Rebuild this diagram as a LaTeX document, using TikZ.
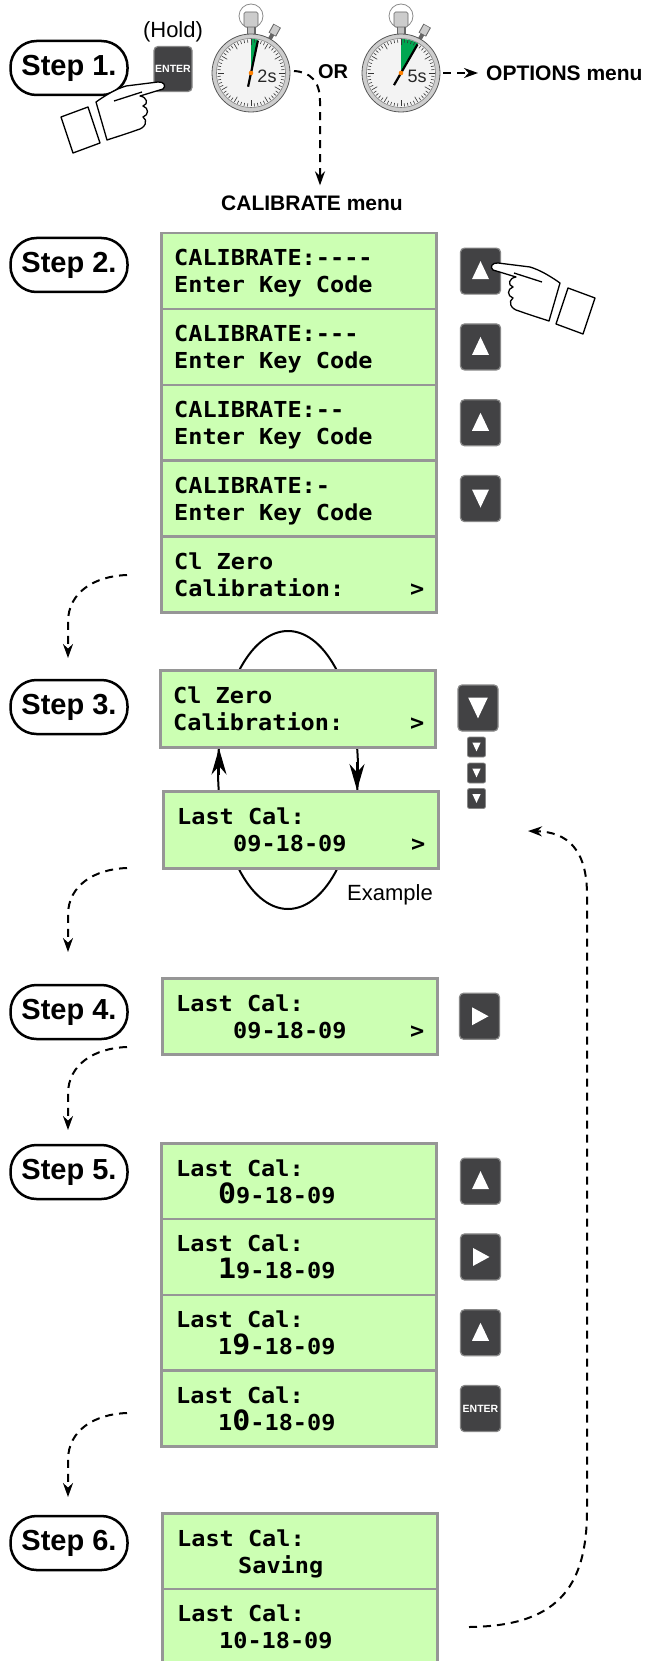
\documentclass[tikz,border=0pt]{standalone}
\usepackage{fontspec}
\setmainfont{Liberation Sans}
\newfontfamily\lcdfont[FakeStretch=1.07]{DejaVu Sans Mono}
\usetikzlibrary{arrows.meta,calc}
\definecolor{lcdgreen}{RGB}{204,255,179}
\definecolor{lcdedge}{RGB}{150,150,150}
\definecolor{keygray}{RGB}{66,66,68}
\definecolor{keyedge}{RGB}{135,135,135}
\definecolor{swgreen}{RGB}{0,166,81}
\definecolor{facegray}{RGB}{243,243,243}
\definecolor{ringgray}{RGB}{205,205,205}
\newcommand\bigd[1]{{\fontsize{28}{28}\selectfont #1}}
\tikzset{
  lcdbox/.style={fill=lcdgreen, draw=lcdedge, line width=2.5pt, minimum width=275pt, minimum height=75.8pt, anchor=north west, inner sep=0pt},
  lcdtxt/.style={anchor=base west, inner sep=0pt, font=\lcdfont\bfseries\fontsize{22}{24}\selectfont},
  keybox/.style={fill=keygray, draw=keyedge, line width=1.2pt, rounded corners=4pt, minimum width=40pt, minimum height=46pt, inner sep=0pt},
  smallkey/.style={fill=keygray, draw=keyedge, line width=0.8pt, rounded corners=2pt, minimum width=18pt, minimum height=20pt, inner sep=0pt},
  steppill/.style={draw=black, line width=2.5pt, rounded corners=26pt, minimum width=117pt, minimum height=54pt, inner sep=0pt, font=\fontsize{29}{30}\selectfont\bfseries},
  flow/.style={line width=2pt, dash pattern=on 8pt off 6pt, -{Stealth[length=14pt,width=10pt]}},
  looparrow/.style={line width=2pt, -{Stealth[length=26pt,width=15pt]}},
  keytxt/.style={text=white, font=\fontsize{10.5}{11}\selectfont\bfseries, inner sep=0pt},
  pics/uptri/.style={code={\fill[white] (0,-10) -- (8.5,8) -- (-8.5,8) -- cycle;}},
  pics/downtri/.style={code={\fill[white] (-8.5,-9) -- (8.5,-9) -- (0,9) -- cycle;}},
  pics/righttri/.style={code={\fill[white] (-7.5,-9) -- (9,0) -- (-7.5,9) -- cycle;}},
  pics/hand/.style={code={
    \draw[fill=white, line width=1.3pt, line join=round] (-103,30) -- (-76,20) -- (-64,56) -- (-91,66) -- cycle;
    \draw[fill=white, line width=1.3pt, line join=round]
      (-68,15) .. controls (-58,8) and (-48,2) .. (-38,-1)
      -- (-6,-5) .. controls (0,-5.5) and (2.5,-1) .. (-1,2)
      -- (-24,9) .. controls (-17,10) and (-15,17) .. (-21,19)
      .. controls (-15,21) and (-15,28) .. (-21,30)
      .. controls (-16,33) and (-18,41) .. (-27,43)
      .. controls (-38,47) and (-48,50) .. (-57,53) -- cycle;
    \draw[line width=1.3pt] (-50,14) -- (-22,5);
  }},
  pics/stopwatch/.style 2 args={code={
    \draw[black!45, line width=0.8pt] (0,-57) circle (12);
    \draw[black!60, line width=4pt] (-61:37) -- (-61:45);
    \draw[black!60, line width=8.5pt] (-61:44) -- (-61:54);
    \draw[black!20, line width=6.5pt] (-61:44.7) -- (-61:53.3);
    \fill[black!60] (-4.5,-47) rectangle (4.5,-36);
    \fill[black!25] (-3.3,-46.5) rectangle (3.3,-36);
    \draw[fill=black!20, draw=black!60, line width=0.6pt, rounded corners=1.5pt] (-7,-61) rectangle (7,-46);
    \draw[fill=ringgray, draw=black!65, line width=0.8pt] (0,0) circle (39);
    \draw[fill=facegray, draw=black!50, line width=0.6pt] (0,0) circle (34.5);
    \fill[swgreen] (0,0) -- plot[domain=-90:#1, samples=12] (\x:34) -- cycle;
    \foreach \i in {0,...,59}{
      \pgfmathsetmacro\rin{mod(\i,5)==0 ? 27.5 : 30.5}
      \draw[black!80, line width=0.6pt] (\i*6:\rin) -- (\i*6:33.5);
    }
    \draw[line width=2.2pt] (#1+180:14) -- (#1:33);
    \fill[orange] (0,0) circle (2.3);
    \node[font=\fontsize{18}{18}\selectfont, text=black!85, inner sep=0pt] at (16,3) {#2};
  }}
}
\begin{document}
\begin{tikzpicture}[x=1pt,y=-1pt]
\useasboundingbox (0,0) rectangle (657,1661);
\clip (0,0) rectangle (657,1661);
\fill[white] (0,0) rectangle (657,1661);

% ---------------- Step 1
\node[steppill] (p1) at (69,68) {Step 1.};
\node[font=\fontsize{22}{24}\selectfont, inner sep=0pt] (hold) at (173,32) {(Hold)};
\node[keybox, minimum width=38pt, minimum height=45pt] (k1) at (173,69) {};
\node[keytxt] (k1t) at (k1) {ENTER};
\pic at (164,87) {hand};
\coordinate (sw1) at (251,73);
\coordinate (sw2) at (401,73);
\pic at (sw1) {stopwatch={-78}{2s}};
\pic at (sw2) {stopwatch={-60}{5s}};
\node[font=\fontsize{20}{21}\selectfont\bfseries, inner sep=0pt] (or) at (333,72) {OR};
\node[font=\fontsize{21}{22}\selectfont\bfseries, anchor=west, inner sep=0pt] (opt) at (486,73) {OPTIONS menu};
\node[font=\fontsize{21}{22}\selectfont\bfseries, inner sep=0pt] (cal) at (312,203) {CALIBRATE menu};
\draw[flow] ($(sw1)+(43,-2)$) .. controls ($(sw1)+(59,-1)$) and ($(sw1)+(69,8)$) .. ($(sw1)+(69,28)$) -- ($(cal.north)+(8,-10)$);
\draw[flow] ($(sw2)+(42,0)$) -- ($(opt.west)+(-8,0)$);

% ---------------- Step 2
\node[steppill] (p2) at (69,265) {Step 2.};
\node[lcdbox] (s2a) at (160,232) {};
\node[lcdbox] (s2b) at (160,307.8) {};
\node[lcdbox] (s2c) at (160,383.6) {};
\node[lcdbox] (s2d) at (160,459.4) {};
\node[lcdbox] (s2e) at (160,535.2) {};
\foreach \b/\t in {s2a/CALIBRATE:-\kern0pt-\kern0pt-\kern0pt-, s2b/CALIBRATE:-\kern0pt-\kern0pt-, s2c/CALIBRATE:-\kern0pt-, s2d/CALIBRATE:-}{
  \node[lcdtxt] (\b1) at ($(\b.north west)+(14,34)$) {\t};
  \node[lcdtxt] (\b2) at ($(\b.north west)+(14,61)$) {Enter Key Code};
}
\node[lcdtxt] (s2e1) at ($(s2e.north west)+(14,34)$) {Cl Zero};
\node[lcdtxt] (s2e2) at ($(s2e.north west)+(14,61)$) {Calibration:};
\node[lcdtxt] (s2e3) at ($(s2e.north west)+(250,61)$) {>};
\node[keybox] (k2a) at ($(s2a.east)+(43,0)$) {};
\node[keybox] (k2b) at ($(s2b.east)+(43,0)$) {};
\node[keybox] (k2c) at ($(s2c.east)+(43,0)$) {};
\node[keybox] (k2d) at ($(s2d.east)+(43,0)$) {};
\pic at (k2a) {uptri};
\pic at (k2b) {uptri};
\pic at (k2c) {uptri};
\pic at (k2d) {downtri};
\pic[xscale=-1] at (492,268) {hand};

\coordinate (a2s) at (127,575);
\coordinate (a2e) at (68,658);
\draw[flow] (a2s) .. controls (95,576) and (68,592) .. (68,622) -- (a2e);

% ---------------- Step 3
\node[steppill] (p3) at (69,707) {Step 3.};
\draw[line width=2pt] (288,770) ellipse [x radius=70, y radius=139];
\node[lcdbox, minimum height=77pt] (s3a) at (159,669) {};
\node[lcdbox, minimum height=77pt] (s3b) at (162,790) {};
\node[lcdtxt] (s3a1) at ($(s3a.north west)+(14,34)$) {Cl Zero};
\node[lcdtxt] (s3a2) at ($(s3a.north west)+(14,61)$) {Calibration:};
\node[lcdtxt] (s3a3) at ($(s3a.north west)+(251,61)$) {>};
\node[lcdtxt] (s3b1) at ($(s3b.north west)+(15,34)$) {Last Cal:};
\node[lcdtxt] (s3b2) at ($(s3b.north west)+(71,61)$) {09-18-09};
\node[lcdtxt] (s3b3) at ($(s3b.north west)+(249,61)$) {>};
\draw[looparrow] (219,775) -- (s3a.south -| 219,0);
\draw[looparrow] (357,762) -- (s3b.north -| 357,0);
\node[keybox] (k3) at (478,708) {};
\pic[scale=1.15] at (k3) {downtri};
\node[smallkey] (k3a) at (476.5,747) {};
\node[smallkey] (k3b) at (476.5,773) {};
\node[smallkey] (k3c) at (476.5,798.5) {};
\pic[scale=0.48] at (k3a) {downtri};
\pic[scale=0.48] at (k3b) {downtri};
\pic[scale=0.48] at (k3c) {downtri};
\node[font=\fontsize{22}{24}\selectfont, inner sep=0pt] (ex) at (390,895) {Example};

\coordinate (a3s) at (127,868);
\coordinate (a3e) at (68,952);
\draw[flow] (a3s) .. controls (95,869) and (68,885) .. (68,915) -- (a3e);

% ---------------- Step 4
\node[steppill] (p4) at (69,1012) {Step 4.};
\node[lcdbox, minimum height=76pt] (s4) at (161,977) {};
\node[lcdtxt] (s41) at ($(s4.north west)+(15,34)$) {Last Cal:};
\node[lcdtxt] (s42) at ($(s4.north west)+(72,61)$) {09-18-09};
\node[lcdtxt] (s43) at ($(s4.north west)+(249,61)$) {>};
\node[keybox] (k4) at ($(s4.east)+(41,0)$) {};
\pic at (k4) {righttri};

\coordinate (a4s) at (127,1047);
\coordinate (a4e) at (68,1130);
\draw[flow] (a4s) .. controls (95,1048) and (68,1064) .. (68,1094) -- (a4e);

% ---------------- Step 5
\node[steppill] (p5) at (69,1172) {Step 5.};
\node[lcdbox] (s5a) at (160,1142) {};
\node[lcdbox] (s5b) at (160,1217.8) {};
\node[lcdbox] (s5c) at (160,1293.6) {};
\node[lcdbox] (s5d) at (160,1369.4) {};
\foreach \b in {s5a,s5b,s5c,s5d}{
  \node[lcdtxt] (\b1) at ($(\b.north west)+(16,34)$) {Last Cal:};
}
\node[lcdtxt] (s5a2) at ($(s5a.north west)+(58,61)$) {\bigd{0}9-18-09};
\node[lcdtxt] (s5b2) at ($(s5b.north west)+(58,61)$) {\bigd{1}9-18-09};
\node[lcdtxt] (s5c2) at ($(s5c.north west)+(58,61)$) {1\bigd{9}-18-09};
\node[lcdtxt] (s5d2) at ($(s5d.north west)+(58,61)$) {1\bigd{0}-18-09};
\node[keybox] (k5a) at ($(s5a.east)+(43,0)$) {};
\node[keybox] (k5b) at ($(s5b.east)+(43,0)$) {};
\node[keybox] (k5c) at ($(s5c.east)+(43,0)$) {};
\node[keybox] (k5d) at ($(s5d.east)+(43,0)$) {};
\pic at (k5a) {uptri};
\pic at (k5b) {righttri};
\pic at (k5c) {uptri};
\node[keytxt] (k5dt) at (k5d) {ENTER};

\coordinate (a5s) at (127,1413);
\coordinate (a5e) at (68,1497);
\draw[flow] (a5s) .. controls (95,1414) and (68,1430) .. (68,1460) -- (a5e);

% ---------------- Step 6
\node[steppill] (p6) at (69,1543) {Step 6.};
\node[lcdbox] (s6a) at (161,1512) {};
\node[lcdbox] (s6b) at (161,1587.8) {};
\node[lcdtxt] (s6a1) at ($(s6a.north west)+(16,34)$) {Last Cal:};
\node[lcdtxt] (s6a2) at ($(s6a.north west)+(77,61)$) {Saving};
\node[lcdtxt] (s6b1) at ($(s6b.north west)+(16,34)$) {Last Cal:};
\node[lcdtxt] (s6b2) at ($(s6b.north west)+(58,61)$) {10-18-09};

\coordinate (rs) at (469,1627);
\coordinate (re) at (528,831);
\draw[flow] (rs) .. controls (555,1626) and (587,1590) .. (587,1510) -- (587,895) .. controls (587,850) and (568,832) .. (re);
\end{tikzpicture}
\end{document}
